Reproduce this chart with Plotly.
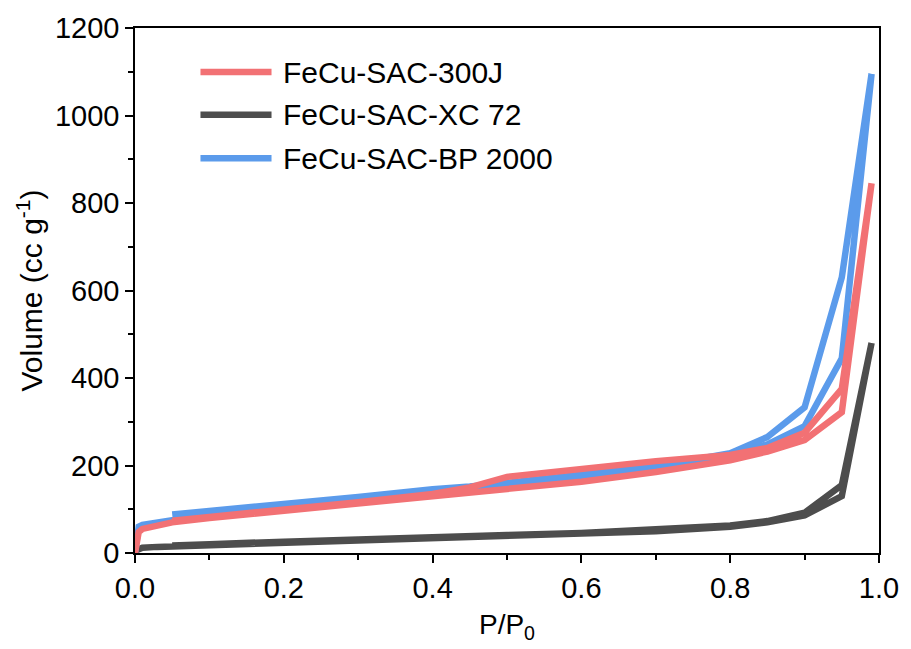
import plotly.graph_objects as go

# ---- data ----
p_ads = [0.0, 0.005, 0.01, 0.03, 0.05, 0.1, 0.2, 0.3, 0.4, 0.5, 0.6, 0.7, 0.8, 0.85, 0.9, 0.95, 0.99]
p_des = [0.95, 0.9, 0.85, 0.8, 0.7, 0.6, 0.5, 0.45, 0.4, 0.3, 0.2, 0.1, 0.05]

red_ads = [0, 48, 55, 64, 70, 80, 97, 113, 130, 147, 163, 185, 212, 232, 258, 322, 845]
red_des = [375, 275, 240, 224, 210, 192, 174, 150, 135, 116, 100, 84, 74]

black_ads = [5, 10, 12, 14, 15, 18, 24, 30, 35, 39, 44, 50, 60, 70, 86, 130, 480]
black_des = [155, 92, 73, 63, 53, 46, 41, 39, 37, 32, 26, 20, 17]

blue_ads = [0, 60, 64, 70, 75, 85, 103, 120, 137, 152, 170, 192, 220, 248, 290, 445, 1095]
blue_des = [630, 333, 265, 228, 198, 178, 160, 152, 146, 128, 111, 97, 88]

names = ["FeCu-SAC-300J", "FeCu-SAC-XC 72", "FeCu-SAC-BP 2000"]
colors = ["#F27174", "#4D4D4D", "#5B9BEB"]

series = {
    names[0]: (red_ads, red_des),
    names[1]: (black_ads, black_des),
    names[2]: (blue_ads, blue_des),
}

fig = go.Figure()
# draw order: black, blue, red (red on top)
for idx in [1, 2, 0]:
    nm = names[idx]
    ads, des = series[nm]
    fig.add_trace(go.Scatter(
        x=p_ads + p_des, y=ads + des, mode="lines", name=nm,
        line=dict(color=colors[idx], width=6.5), showlegend=False,
    ))

FONT = "Liberation Sans, Arial, sans-serif"

# manual legend (long line samples)
leg_y = [0.916, 0.835, 0.752]
for i, nm in enumerate(names):
    fig.add_shape(type="line", xref="x domain", yref="y domain",
                  x0=0.088, x1=0.1835, y0=leg_y[i], y1=leg_y[i],
                  line=dict(color=colors[i], width=6.5))
    fig.add_annotation(xref="x domain", yref="y domain", x=0.196, y=leg_y[i],
                       text=nm, showarrow=False, xanchor="left", yanchor="middle",
                       font=dict(family=FONT, size=30, color="black"))

axis_common = dict(
    showline=True, linecolor="black", linewidth=1.5, mirror=True,
    ticks="outside", ticklen=8, tickwidth=1.5, tickcolor="black",
    showgrid=False, zeroline=False,
    tickfont=dict(family=FONT, size=29, color="black"),
)

fig.update_xaxes(
    range=[0, 1], tick0=0, dtick=0.2, tickformat=".1f",
    minor=dict(ticks="outside", ticklen=5, tickwidth=1.5, tickcolor="black", dtick=0.1),
    title=dict(text="P/P<sub>0</sub>", font=dict(family=FONT, size=28, color="black"), standoff=12),
    **axis_common,
)
fig.update_yaxes(
    range=[0, 1200], tick0=0, dtick=200,
    minor=dict(ticks="outside", ticklen=5, tickwidth=1.5, tickcolor="black", dtick=100),
    title=dict(text="Volume (cc g<sup>-1</sup>)", font=dict(family=FONT, size=30, color="black"), standoff=3),
    **axis_common,
)

fig.update_layout(
    width=911, height=649,
    margin=dict(l=135, r=25, t=28, b=96),
    plot_bgcolor="white", paper_bgcolor="white",
    font=dict(family=FONT, color="black"),
)

fig.write_html("out.html")
